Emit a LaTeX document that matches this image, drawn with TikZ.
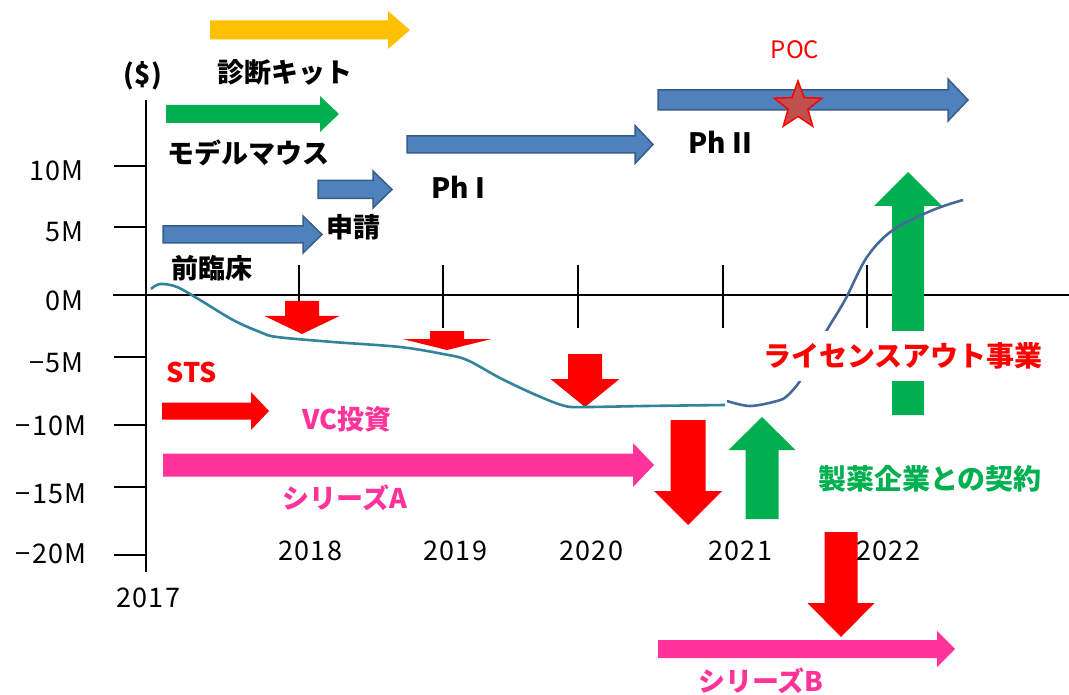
\documentclass[tikz,border=0pt]{standalone}
\usepackage{fontspec}
\setmainfont{Noto Sans CJK JP}
\newfontfamily\numfont[LetterSpace=5]{Noto Sans CJK JP}
\usetikzlibrary{shapes.geometric}
\definecolor{cyel}{HTML}{FFC000}
\definecolor{cgrn}{HTML}{00B050}
\definecolor{cblu}{HTML}{4F81BD}
\definecolor{cbld}{HTML}{385D8A}
\definecolor{cred}{HTML}{FF0000}
\definecolor{cpnk}{HTML}{FF3399}
\definecolor{cteal}{HTML}{31849B}
\definecolor{cdblu}{HTML}{46699A}
\definecolor{cstar}{HTML}{C0504D}
% right block arrow: style, x0, x1 (head base), x2 (tip), yc, shaft half, head half
\newcommand\rarr[7]{\path[#1] (#2,#5-#6) -- (#3,#5-#6) -- (#3,#5-#7) -- (#4,#5) -- (#3,#5+#7) -- (#3,#5+#6) -- (#2,#5+#6) -- cycle;}
% vertical block arrow: style, xc, y0 (shaft end), y1 (head base), y2 (tip), shaft half, head half
\newcommand\varr[7]{\path[#1] (#2-#6,#3) -- (#2+#6,#3) -- (#2+#6,#4) -- (#2+#7,#4) -- (#2,#5) -- (#2-#7,#4) -- (#2-#6,#4) -- cycle;}
\tikzset{
  yelarr/.style={fill=cyel},
  grnarr/.style={fill=cgrn},
  redarr/.style={fill=cred},
  pnkarr/.style={fill=cpnk},
  bluarr/.style={fill=cblu, draw=cbld, line width=1.5pt},
  axis/.style={draw=black, line width=2.6pt},
  jl/.style={font=\bfseries\fontsize{27}{30}\selectfont, inner sep=0},
  jlb/.style={font=\bfseries\fontsize{28}{31}\selectfont, inner sep=0},
  num/.style={font=\numfont\fontsize{27}{30}\selectfont, inner sep=0},
}
\begin{document}
\begin{tikzpicture}[x=1pt, y=-1pt]
\useasboundingbox (0,0) rectangle (1069,695);
\fill[white] (0,0) rectangle (1069,695);
% axes
\draw[axis] (146,100) -- (146,572);
\draw[axis] (113,295) -- (1069,295);
\foreach \yy in {166,227,295,357,425,487,555} \draw[axis] (114,\yy) -- (146,\yy);
\foreach \xx in {299,443,578,723,867} \draw[axis] (\xx,265) -- (\xx,328);
% y labels
\node[num, anchor=base east] (l10) at (84,181) {10M};
\node[num, anchor=base east] (l5) at (84,242) {5M};
\node[num, anchor=base east] (l0) at (84,310) {0M};
\node[num, anchor=base east] (lm5) at (84,372) {−5M};
\node[num, anchor=base east] (lm10) at (87,435) {−10M};
\node[num, anchor=base east] (lm15) at (87,503) {−15M};
\node[num, anchor=base east] (lm20) at (87,563) {−20M};
% horizontal arrows
\rarr{yelarr}{210}{388}{410}{30}{9.5}{19}
\rarr{grnarr}{166}{320}{339}{114}{9}{18}
\rarr{bluarr}{163}{303}{322}{234.5}{8.5}{18.5}
\rarr{bluarr}{318}{373}{392}{189.5}{9}{18.5}
\rarr{bluarr}{407}{635}{653}{144.5}{8.5}{19}
\rarr{bluarr}{658}{948}{968}{100}{10}{21}
\rarr{redarr}{162}{251}{269}{411}{8.5}{19}
\rarr{pnkarr}{163}{633}{654}{465}{11.5}{22}
\rarr{pnkarr}{658}{937}{955}{649}{9}{18}
% vertical arrows
\varr{redarr}{302}{301}{316}{334}{17}{37.5}
\varr{redarr}{447}{331}{339}{350}{17}{44.5}
\varr{redarr}{585}{354}{379}{407}{17}{34.5}
\varr{redarr}{688}{420}{491}{525}{17.5}{34}
\varr{redarr}{841}{532}{603}{637}{16.5}{33.5}
\varr{grnarr}{762}{519}{450}{417}{16.5}{33.5}
\varr{grnarr}{908}{415}{206}{172}{16}{34}
% star
\node[star, star points=5, star point ratio=2.4, minimum size=50pt, inner sep=0pt, fill=cstar, draw=cred, line width=1.5pt] (pocstar) at (798,106) {};
% curve
\draw[cteal, line width=2.6pt] plot[smooth, tension=0.55] coordinates {(151,289) (160,284) (177,287) (200,300) (233,320) (260,332) (277,337) (333,342) (400,347) (443,354) (467,360) (500,378) (536,395) (565,406) (587,407) (645,406) (725,405)};
\draw[cdblu, line width=2.6pt] plot[smooth, tension=0.55] coordinates {(727,401) (750,406) (777,401) (787,396) (800,381) (813,356) (827,330) (845,300) (867,257) (893,230) (933,210) (963,200)};
% labels
\node[jl] (dollar) at (143,76) {(\$)};
\node[jl] (kit) at (285,72) {診断キット};
\node[jl] (mouse) at (248,153) {モデルマウス};
\node[jl] (preclin) at (212,268) {前臨床};
\node[jl] (apply) at (353,227) {申請};
\node[font=\bfseries\fontsize{28}{30}\selectfont, inner sep=0] (ph1) at (458,187) {Ph I};
\node[font=\bfseries\fontsize{28}{30}\selectfont, inner sep=0] (ph2) at (720,142) {Ph II};
\node[font=\fontsize{24}{26}\selectfont, text=cred, inner sep=0] (poc) at (795,50) {POC};
\node[jl, text=cred] (sts) at (192,372) {STS};
\node[jl, text=cpnk] (vc) at (347,419) {VC投資};
\node[jl, text=cpnk] (serA) at (345,498) {シリーズA};
\node[jl, text=cpnk] (serB) at (761,681) {シリーズB};
\node[jlb, text=cred, fill=white, minimum width=295pt, minimum height=50pt] (lic) at (903,356) {ライセンスアウト事業};
\node[jlb, text=cgrn] (deal) at (930,479) {製薬企業との契約};
% year labels
\node[num, anchor=base] (y17) at (148,607) {2017};
\node[num, anchor=base] (y18) at (310,560) {2018};
\node[num, anchor=base] (y19) at (455,560) {2019};
\node[num, anchor=base] (y20) at (591,560) {2020};
\node[num, anchor=base] (y21) at (740,560) {2021};
\node[num, anchor=base] (y22) at (888,560) {2022};
\end{tikzpicture}
\end{document}
